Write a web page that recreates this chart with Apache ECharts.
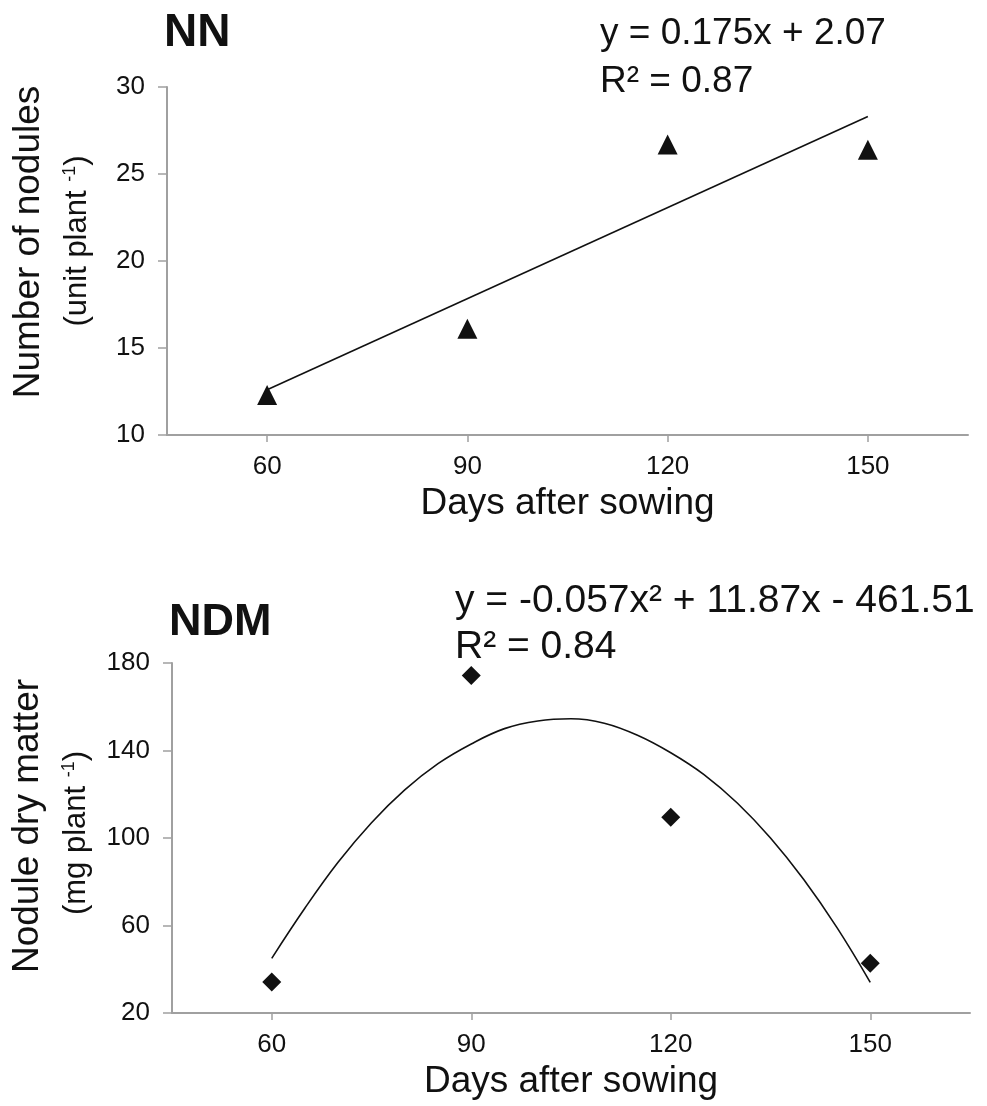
<!DOCTYPE html>
<html>
<head>
<meta charset="utf-8">
<script src="https://cdn.jsdelivr.net/npm/echarts@6/dist/echarts.min.js"></script>
<style>
html,body{margin:0;padding:0;background:#fff;}
#chart{width:987px;height:1106px;}
</style>
</head>
<body>
<div id="chart"></div>
<script>
// ---- data ----
const dayTicks = [60, 90, 120, 150];
const nnDays = [60, 90, 120, 150];
const nnValues = [12.3, 16.1, 26.7, 26.4];
const nnTrendDays = [60, 150];
const nnTrendValues = [12.6, 28.3];
const ndmDays = [60, 90, 120, 150];
const ndmValues = [34.2, 174.3, 109.5, 42.8];
const ndmCurveDays = [60, 65, 70, 75, 80, 85, 90, 95, 100, 105, 110, 115, 120, 125, 130, 135, 140, 145, 150];
const ndmCurveValues = [45, 68, 89, 107, 122, 134, 143, 150, 153.5, 154.5, 152.5, 147, 139, 129, 116, 100, 81, 59, 34];
const nnYTicks = [10, 15, 20, 25, 30];
const ndmYTicks = [20, 60, 100, 140, 180];

const FONT = "'Liberation Sans', Arial, sans-serif";
const INK = '#111';
const AXIS = '#a0a0a0';

const pair = (xs, ys) => xs.map((x, i) => [x, ys[i]]);

function xAxisFor(gridIndex) {
  return {
    type: 'value', gridIndex, min: 45, max: 165,
    name: 'Days after sowing', nameLocation: 'middle', nameGap: 50,
    nameTextStyle: { fontFamily: FONT, fontSize: 37, color: INK },
    axisLine: { show: true, lineStyle: { color: AXIS, width: 2 } },
    axisTick: { show: true, length: 7, lineStyle: { color: AXIS, width: 1.5 }, customValues: dayTicks },
    axisLabel: { fontFamily: FONT, fontSize: 26, color: INK, margin: 19, customValues: dayTicks },
    splitLine: { show: false }
  };
}
function yAxisFor(gridIndex, ticks) {
  return {
    type: 'value', gridIndex, min: ticks[0], max: ticks[ticks.length - 1],
    interval: ticks[1] - ticks[0],
    axisLine: { show: true, lineStyle: { color: AXIS, width: 2 } },
    axisTick: { show: true, inside: false, length: 9, lineStyle: { color: AXIS, width: 1.5 } },
    axisLabel: { fontFamily: FONT, fontSize: 26, color: INK, margin: 22 },
    splitLine: { show: false }
  };
}

const chart = echarts.init(document.getElementById('chart'), null, { renderer: 'canvas' });

const supRich = {
  sup: { fontFamily: FONT, fontSize: 18, color: INK, verticalAlign: 'top', lineHeight: 18 }
};

chart.setOption({
  backgroundColor: '#fff',
  animation: false,
  grid: [
    { left: 167, right: 19, top: 87, height: 348 },
    { left: 172, right: 17, top: 663, height: 350 }
  ],
  xAxis: [xAxisFor(0), xAxisFor(1)],
  yAxis: [yAxisFor(0, nnYTicks), yAxisFor(1, ndmYTicks)],
  series: [
    {
      type: 'line', xAxisIndex: 0, yAxisIndex: 0,
      data: pair(nnTrendDays, nnTrendValues),
      showSymbol: false, lineStyle: { color: INK, width: 1.6 }, z: 2
    },
    {
      type: 'scatter', xAxisIndex: 0, yAxisIndex: 0,
      data: pair(nnDays, nnValues),
      symbol: 'triangle', symbolSize: 20, itemStyle: { color: INK, opacity: 1 }, z: 3
    },
    {
      type: 'line', xAxisIndex: 1, yAxisIndex: 1,
      data: pair(ndmCurveDays, ndmCurveValues),
      smooth: 0.4, showSymbol: false, lineStyle: { color: INK, width: 1.6 }, z: 2
    },
    {
      type: 'scatter', xAxisIndex: 1, yAxisIndex: 1,
      data: pair(ndmDays, ndmValues),
      symbol: 'diamond', symbolSize: 19, itemStyle: { color: INK, opacity: 1 }, z: 3
    }
  ],
  graphic: [
    { type: 'text', left: 164, top: 10, style: { text: 'NN', font: "bold 46px " + FONT, fill: INK } },
    { type: 'text', left: 169, top: 600, style: { text: 'NDM', font: "bold 45px " + FONT, fill: INK } },
    { type: 'text', x: 600, y: 34, style: { text: 'y = 0.175x + 2.07', fontFamily: FONT, fontSize: 37, fill: INK, textVerticalAlign: 'middle' } },
    { type: 'text', x: 600, y: 82, style: { text: 'R² = 0.87', fontFamily: FONT, fontSize: 37, fill: INK, textVerticalAlign: 'middle' } },
    { type: 'text', x: 455, y: 601, style: { text: 'y = -0.057x² + 11.87x - 461.51', fontFamily: FONT, fontSize: 39, fill: INK, textVerticalAlign: 'middle' } },
    { type: 'text', x: 455, y: 647, style: { text: 'R² = 0.84', fontFamily: FONT, fontSize: 39, fill: INK, textVerticalAlign: 'middle' } },
    { type: 'text', x: 29, y: 242, rotation: Math.PI / 2,
      style: { text: 'Number of nodules', fontFamily: FONT, fontSize: 37, fill: INK, textAlign: 'center', textVerticalAlign: 'middle' } },
    { type: 'text', x: 77, y: 241, rotation: Math.PI / 2,
      style: { text: '(unit plant {sup|-1})', rich: supRich, fontFamily: FONT, fontSize: 31, fill: INK, textAlign: 'center', textVerticalAlign: 'middle' } },
    { type: 'text', x: 28, y: 826, rotation: Math.PI / 2,
      style: { text: 'Nodule dry matter', fontFamily: FONT, fontSize: 37, fill: INK, textAlign: 'center', textVerticalAlign: 'middle' } },
    { type: 'text', x: 76, y: 833, rotation: Math.PI / 2,
      style: { text: '(mg plant {sup|-1})', rich: supRich, fontFamily: FONT, fontSize: 31, fill: INK, textAlign: 'center', textVerticalAlign: 'middle' } }
  ]
});
</script>
</body>
</html>
